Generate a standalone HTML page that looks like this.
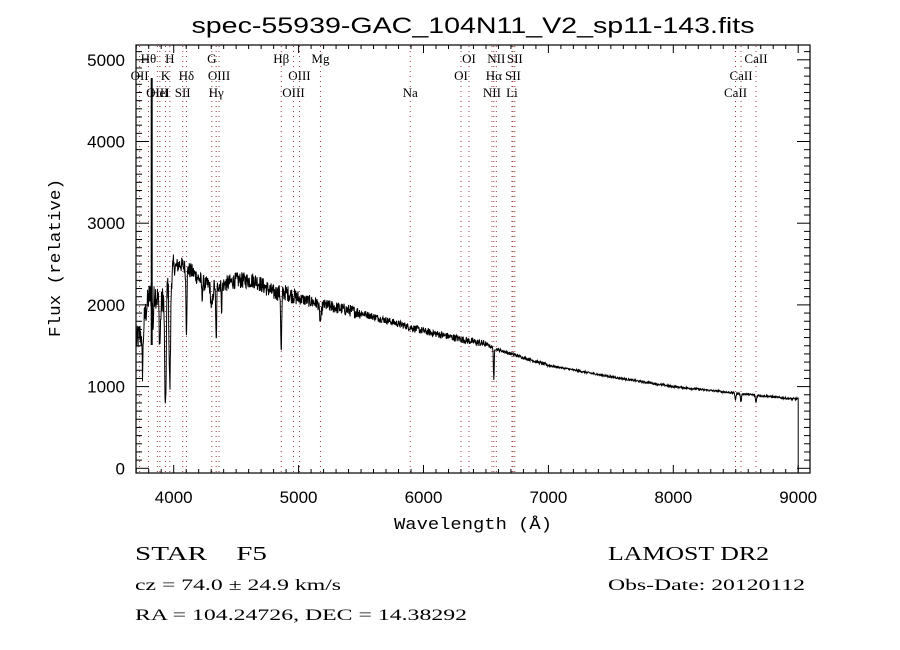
<!DOCTYPE html>
<html><head><meta charset="utf-8">
<style>html,body{margin:0;padding:0;background:#fff;}svg{display:block;}</style>
</head><body>
<svg id="s" width="900" height="650" xmlns="http://www.w3.org/2000/svg">
<rect width="900" height="650" fill="#fff"/>
<defs><clipPath id="c"><rect x="136" y="45" width="674" height="428"/></clipPath></defs>
<g id="lines" stroke="#9b4040" stroke-width="1" stroke-dasharray="1,4"></g>
<g id="labs" font-family="Liberation Serif, serif" font-size="13" fill="#000"></g>
<polyline id="sp" clip-path="url(#c)" fill="none" stroke="#000" stroke-width="1"/>
<line x1="151.7" x2="151.7" y1="78" y2="345" stroke="#000" stroke-width="2"/>
<g id="ax" stroke="#000" stroke-width="1"></g>
<rect x="136" y="45" width="674" height="428" fill="none" stroke="#000" stroke-width="1.2"/>
<g font-family="Liberation Sans, sans-serif" fill="#000">
<text x="473" y="33" font-size="22" text-anchor="middle" textLength="563" lengthAdjust="spacingAndGlyphs">spec-55939-GAC_104N11_V2_sp11-143.fits</text>
<g id="tl" font-size="17"></g>
<text x="473" y="529" font-size="17" text-anchor="middle" font-family="Liberation Mono, monospace" textLength="158" lengthAdjust="spacingAndGlyphs">Wavelength (Å)</text>
<text transform="translate(60,258) rotate(-90)" font-size="17" text-anchor="middle" font-family="Liberation Mono, monospace" textLength="158" lengthAdjust="spacingAndGlyphs">Flux (relative)</text>
</g>
<g font-family="Liberation Serif, serif" fill="#000">
<text x="135" y="560" font-size="20" textLength="132" lengthAdjust="spacingAndGlyphs">STAR&#160;&#160;&#160;&#160;F5</text>
<text x="608" y="560" font-size="20" textLength="161" lengthAdjust="spacingAndGlyphs">LAMOST DR2</text>
<text x="135" y="590" font-size="16" textLength="206" lengthAdjust="spacingAndGlyphs">cz = 74.0 ± 24.9 km/s</text>
<text x="608" y="590" font-size="16" textLength="197" lengthAdjust="spacingAndGlyphs">Obs-Date: 20120112</text>
<text x="135" y="620" font-size="16" textLength="332" lengthAdjust="spacingAndGlyphs">RA = 104.24726, DEC =  14.38292</text>
</g>
</svg>
<script>
var NS="http://www.w3.org/2000/svg";
function X(w){return 173.7+(w-4000)*0.1249;}
function Y(f){return 468.3-f*0.0817;}
function el(p,t,a,txt){var e=document.createElementNS(NS,t);for(var k in a)e.setAttribute(k,a[k]);if(txt!=null)e.textContent=txt;p.appendChild(e);return e;}
var ax=document.getElementById('ax'),tl=document.getElementById('tl');
for(var w=3700;w<=9090;w+=100){var x=X(w),maj=(w%1000==0);var L=maj?8:4;
el(ax,'line',{x1:x,x2:x,y1:473,y2:473-L});el(ax,'line',{x1:x,x2:x,y1:45,y2:45+L});
if(maj)el(tl,'text',{x:x,y:503,'text-anchor':'middle'},String(w));}
for(var f=0;f<=5100;f+=100){var y=Y(f),maj=(f%1000==0);var L=maj?13:6;
el(ax,'line',{x1:136,x2:136+L,y1:y,y2:y});el(ax,'line',{x1:810,x2:810-L,y1:y,y2:y});
if(maj)el(tl,'text',{x:125,y:y+6,'text-anchor':'end'},String(f));}
var lines=[[3727,'OII',2],[3798,'Hθ',1],[3869,'OIII',3],[3889,'HeI',3],[3934,'K',2],[3969,'H',1],[4072,'SII',3],[4102,'Hδ',2],[4305,'G',1],[4340,'Hγ',3],[4363,'OIII',2],[4861,'Hβ',1],[4959,'OIII',3],[5007,'OIII',2],[5175,'Mg',1],[5894,'Na',3],[6300,'OI',2],[6364,'OI',1],[6548,'NII',3],[6563,'Hα',2],[6583,'NII',1],[6708,'Li',3],[6716,'SII',2],[6731,'SII',1],[8498,'CaII',3],[8542,'CaII',2],[8662,'CaII',1]];
var lg=document.getElementById('lines'),lb=document.getElementById('labs');
lines.forEach(function(l){var x=X(l[0]);el(lg,'line',{x1:x,x2:x,y1:46,y2:472});
el(lb,'text',{x:x,y:46+l[2]*17,'text-anchor':'middle'},l[1]);});
var anc=[[3700,1550],[3750,1700],[3800,2100],[3850,2150],[3900,2000],[3950,2300],[4000,2450],[4050,2500],[4150,2400],[4250,2250],[4400,2250],[4500,2300],[4650,2300],[4800,2150],[4900,2150],[5000,2080],[5200,2000],[5500,1900],[6000,1680],[6300,1580],[6500,1520],[6600,1450],[7000,1260],[7500,1120],[8000,1000],[8500,920],[8950,850],[9000,850]];
function cont(w){for(var i=0;i<anc.length-1;i++){if(w<=anc[i+1][0]){var t=(w-anc[i][0])/(anc[i+1][0]-anc[i][0]);return anc[i][1]+t*(anc[i+1][1]-anc[i][1]);}}return 850;}
var ab=[[3934,1550,6],[3969,1350,6],[4102,750,4],[4340,700,4],[4861,750,4],[6563,420,3],[3889,500,5],[3835,400,4],[3750,500,5],[4305,300,8],[5175,200,8],[8498,80,4],[8542,100,4],[8662,90,4],[4384,300,3],[4227,200,3]];
var seed=12345;function rnd(){seed=(seed*1103515245+12345)&0x7fffffff;return seed/0x7fffffff-0.5;}
var pts=[];
for(var w=3700;w<=9000;w+=2.5){var f=cont(w);
ab.forEach(function(a){var d=(w-a[0])/a[2];f-=a[1]*Math.exp(-0.5*d*d);});
var amp=w<4000?350:w<5000?200:w<5500?150:w<6500?90:w<7000?40:25;
f+=amp*rnd();
pts.push(X(w).toFixed(1)+','+Y(f).toFixed(1));}
pts.push(X(9000)+','+Y(-50));
document.getElementById('sp').setAttribute('points',pts.join(' '));
</script>
</body></html>
